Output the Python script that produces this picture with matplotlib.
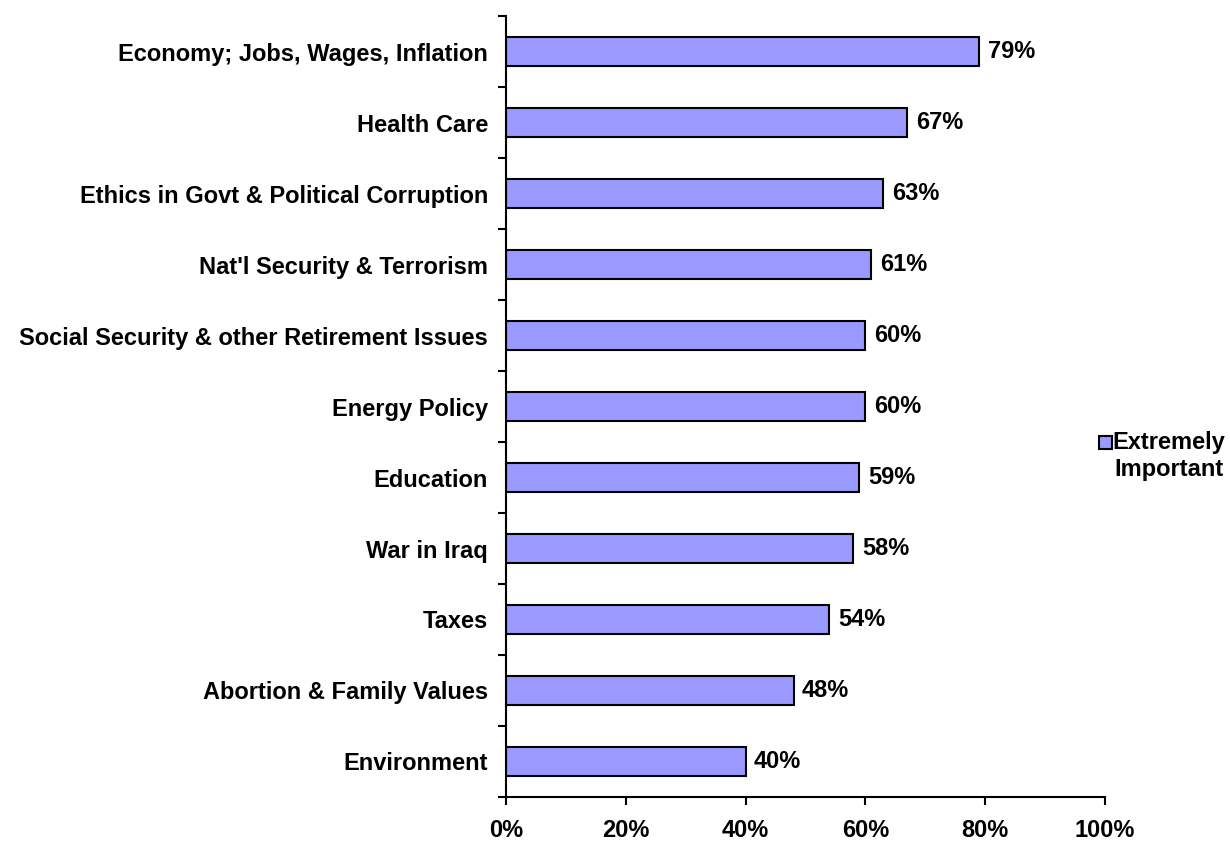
import numpy as np
import matplotlib.pyplot as plt
from matplotlib.patches import Rectangle
from matplotlib.ticker import FixedLocator

plt.rcParams['font.family'] = ['Liberation Sans', 'DejaVu Sans']
plt.rcParams['font.weight'] = 'bold'

# Issue categories, top to bottom
issues = ['Economy; Jobs, Wages, Inflation', 'Health Care',
          'Ethics in Govt & Political Corruption', "Nat'l Security & Terrorism",
          'Social Security & other Retirement Issues', 'Energy Policy',
          'Education', 'War in Iraq', 'Taxes', 'Abortion & Family Values',
          'Environment']
extremely_important = [79, 67, 63, 61, 60, 60, 59, 58, 54, 48, 40]
x_ticks = [0, 20, 40, 60, 80, 100]
bar_color = '#9999FF'
fs = 17

fig = plt.figure(figsize=(12.3, 8.44), dpi=100)
ax = fig.add_axes([0.4114, 0.0557, 0.4870, 0.9253])

y = np.arange(len(issues))[::-1]
ax.barh(y, extremely_important, height=0.4, color=bar_color,
        edgecolor='black', linewidth=1.5)

for yi, v in zip(y, extremely_important):
    ax.text(v + 1.4, yi, f'{v}%', va='center', ha='left',
            fontsize=fs, fontweight='bold')

ax.set_xlim(0, 100)
ax.set_ylim(-0.5, len(issues) - 0.5)
ax.set_xticks(x_ticks)
ax.set_xticklabels([f'{t}%' for t in x_ticks], fontsize=fs, fontweight='bold')
ax.tick_params(axis='x', length=6, width=1.5, pad=10)

ax.set_yticks(y)
ax.set_yticklabels(issues, fontsize=fs, fontweight='bold')
ax.tick_params(axis='y', which='major', length=0, pad=13)
ax.yaxis.set_minor_locator(FixedLocator(np.arange(-0.5, len(issues), 1.0)))
ax.tick_params(axis='y', which='minor', length=6, width=1.5)

for s in ['top', 'right']:
    ax.spines[s].set_visible(False)
for s in ['left', 'bottom']:
    ax.spines[s].set_linewidth(1.5)

# legend drawn by hand (Excel style: swatch next to first line)
W, H = 1230, 844
fig.patches.append(Rectangle((1099 / W, 1 - 449 / H), 13 / W, 13 / H,
                             transform=fig.transFigure, facecolor=bar_color,
                             edgecolor='black', linewidth=1.5))
fig.text(1169 / W, 1 - 431 / H, 'Extremely\nImportant', ha='center', va='top',
         multialignment='center', fontsize=fs, fontweight='bold')

fig.savefig('out.png', dpi=100)
